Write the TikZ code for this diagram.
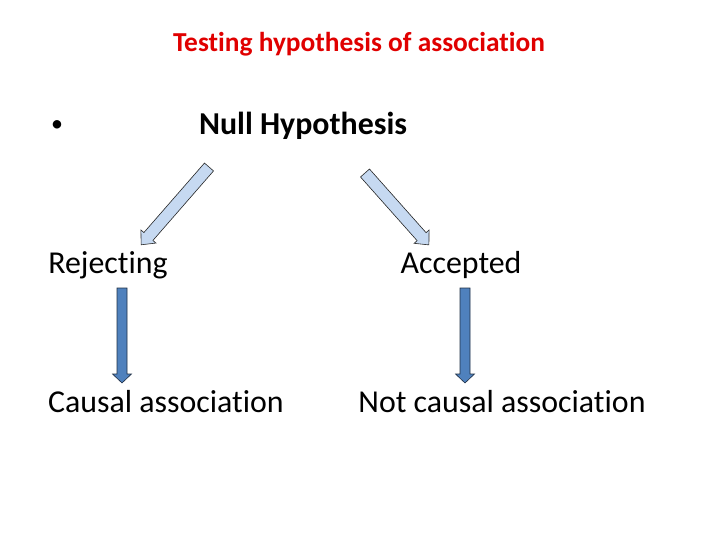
\documentclass[tikz,border=0pt]{standalone}
\usepackage{fontspec}
\setmainfont[Ligatures=NoCommon]{Carlito}
\usetikzlibrary{calc}
\definecolor{TitleRed}{HTML}{E00000}
\definecolor{PaleBlue}{HTML}{C6D9F1}
\definecolor{MidBlue}{HTML}{4F81BD}
\definecolor{EdgeBlue}{HTML}{1F2F45}

% block arrow: from, to, style, shaft half width, head half width, head length
\newcommand{\blockarrow}[6]{%
  \draw[#3] let \p1=($(#2)-(#1)$), \n1={atan2(\y1,\x1)}, \n2={veclen(\x1,\y1)} in
    [shift={(#1)}, rotate=\n1]
    (0pt,-#4) -- ({\n2-#6},-#4) -- ({\n2-#6},-#5) -- (\n2,0pt)
    -- ({\n2-#6},#5) -- ({\n2-#6},#4) -- (0pt,#4) -- cycle;
}

\begin{document}
\begin{tikzpicture}[x=1bp, y=-1bp,
    title/.style={text=TitleRed, font=\fontsize{27.5}{33}\selectfont\bfseries},
    headline/.style={font=\fontsize{32}{38}\selectfont\bfseries},
    dot/.style={font=\fontsize{24}{29}\selectfont},
    answer/.style={font=\fontsize{32}{38}\selectfont},
    palearrow/.style={fill=PaleBlue, draw=black!85, line width=0.6pt},
    darkarrow/.style={fill=MidBlue, draw=EdgeBlue, line width=0.6pt}
  ]
    \useasboundingbox (0,0) rectangle (720,540);

    % Title
    \node[title] (title) at (359,44) {Testing hypothesis of association};

    % Hypothesis
    \node[dot] (bullet) at (57,126) {•};
    \node[headline] (null) at (303,126) {Null Hypothesis};

    % Decisions
    \node[answer] (reject) at (108,265) {Rejecting};
    \node[answer] (accept) at (461,265) {Accepted};

    % Conclusions
    \node[answer] (causal) at (166,402) {Causal association};
    \node[answer] (notcausal) at (502,402) {Not causal association};

    % Arrow ends
    \coordinate (nullL) at (209,167);
    \coordinate (rejectT) at (141,245);
    \coordinate (nullR) at (365,173);
    \coordinate (acceptT) at (429,245);
    \coordinate (rejectB) at (122,288);
    \coordinate (causalT) at (122,383);
    \coordinate (acceptB) at (465,288);
    \coordinate (notcausalT) at (465,383);

    % Arrows
    \blockarrow{nullL}{rejectT}{palearrow}{6bp}{10bp}{11bp}
    \blockarrow{nullR}{acceptT}{palearrow}{6bp}{10bp}{11bp}
    \blockarrow{rejectB}{causalT}{darkarrow}{5bp}{9.5bp}{9bp}
    \blockarrow{acceptB}{notcausalT}{darkarrow}{5bp}{9.5bp}{9bp}

  \end{tikzpicture}
\end{document}
